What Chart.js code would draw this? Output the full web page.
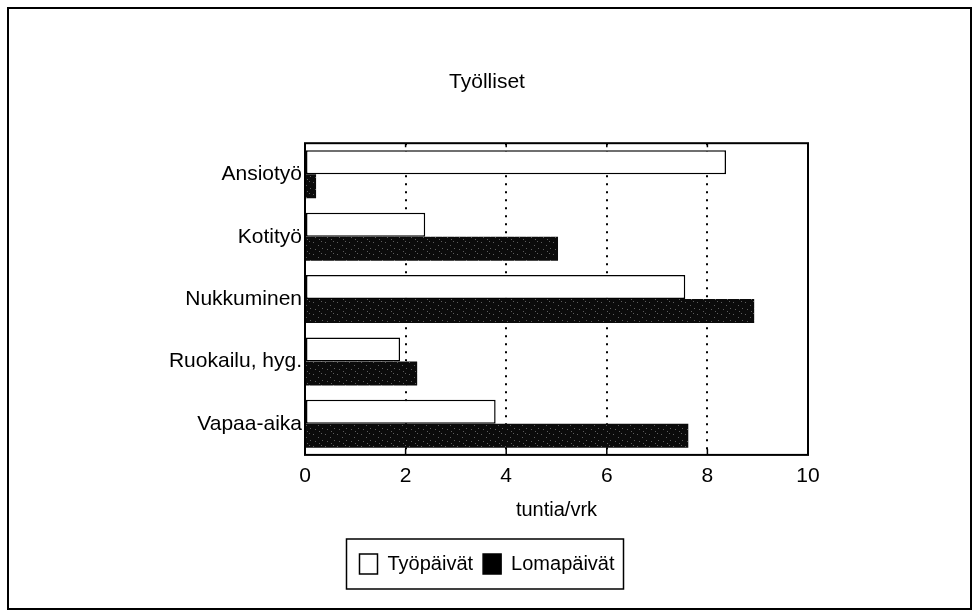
<!DOCTYPE html>
<html>
<head>
<meta charset="utf-8">
<script src="https://cdn.jsdelivr.net/npm/chart.js@4.4.1/dist/chart.umd.min.js"></script>
<style>
  body { margin: 0; background: #fff; }
  canvas { display: block; }
</style>
</head>
<body>
<canvas id="chart" width="979" height="611"></canvas>
<script>
// Data (hours per day)
const categories = ['Ansiotyö', 'Kotityö', 'Nukkuminen', 'Ruokailu, hyg.', 'Vapaa-aika'];
const tyopaivat = [8.37, 2.39, 7.56, 1.89, 3.79];
const lomapaivat = [0.22, 5.03, 8.93, 2.23, 7.62];
const seriesNames = ['Työpäivät', 'Lomapäivät'];
const xMin = 0;
const xMax = 10;
const xStep = 2;

Chart.defaults.font.family = '"Liberation Sans", Arial, sans-serif';
Chart.defaults.color = '#000';

// dark fill with a faint speckle, like the scanned raster
function makeStipple() {
    const c = document.createElement('canvas');
    c.width = 12;
    c.height = 12;
    const g = c.getContext('2d');
    g.fillStyle = '#0b0b0b';
    g.fillRect(0, 0, 12, 12);
    g.fillStyle = '#5e5e5e';
    const dots = [[1, 2], [6, 5], [9, 1], [3, 9], [10, 8], [7, 11]];
    dots.forEach(d => g.fillRect(d[0], d[1], 1, 1));
    return g.createPattern(c, 'repeat');
}

// frame, inner ticks, outer border and box round the legend
const framePlugin = {
    id: 'framePlugin',
    beforeDraw(chart) {
        const ctx = chart.ctx;
        ctx.save();
        ctx.fillStyle = '#fff';
        ctx.fillRect(0, 0, chart.width, chart.height);
        ctx.restore();
    },
    afterDraw(chart) {
        const ctx = chart.ctx;
        const a = chart.chartArea;
        const xs = chart.scales.x;
        ctx.save();
        ctx.strokeStyle = '#000';

        // plot frame
        ctx.lineWidth = 2;
        ctx.strokeRect(a.left, a.top, a.right - a.left, a.bottom - a.top);

        // short inward ticks
        ctx.lineWidth = 1.5;
        for (let v = xMin + xStep; v < xMax; v += xStep) {
            const px = xs.getPixelForValue(v);
            ctx.beginPath();
            ctx.moveTo(px, a.bottom);
            ctx.lineTo(px, a.bottom - 6);
            ctx.moveTo(px, a.top);
            ctx.lineTo(px, a.top + 4);
            ctx.stroke();
        }

        // outer border of the whole figure
        ctx.lineWidth = 2;
        ctx.strokeRect(8, 8, 963, 601);

        // box round the legend items
        const boxes = chart.legend.legendHitBoxes;
        if (boxes && boxes.length) {
            const first = boxes[0];
            const last = boxes[boxes.length - 1];
            const left = first.left - 13;
            const right = last.left + last.width + 9;
            const midY = first.top + first.height / 2;
            ctx.lineWidth = 1.5;
            ctx.strokeRect(left, midY - 25, right - left, 50);
        }
        ctx.restore();
    }
};

const ctx = document.getElementById('chart').getContext('2d');
const chart = new Chart(ctx, {
    type: 'bar',
    data: {
        labels: categories,
        datasets: [{
            label: seriesNames[0],
            data: tyopaivat,
            backgroundColor: '#fff',
            borderColor: '#000',
            borderWidth: 1.5,
            borderSkipped: false
        }, {
            label: seriesNames[1],
            data: lomapaivat,
            backgroundColor: makeStipple(),
            borderColor: '#000',
            borderWidth: 0
        }]
    },
    options: {
        indexAxis: 'y',
        responsive: false,
        animation: false,
        devicePixelRatio: 1,
        layout: {
            padding: { top: 70, left: 166, right: 171, bottom: 27 }
        },
        datasets: {
            bar: { categoryPercentage: 0.77, barPercentage: 1.0 }
        },
        scales: {
            x: {
                min: xMin,
                max: xMax,
                ticks: {
                    stepSize: xStep,
                    padding: 10,
                    font: { size: 21, lineHeight: 1.1 }
                },
                border: { display: false, dash: [2, 6] },
                grid: {
                    drawTicks: false,
                    lineWidth: 2,
                    color: c => (c.tick && (c.tick.value === xMin || c.tick.value === xMax)) ? 'rgba(0,0,0,0)' : '#000'
                },
                title: {
                    display: true,
                    text: 'tuntia/vrk',
                    font: { size: 20 },
                    padding: { top: 0, bottom: 22 }
                }
            },
            y: {
                border: { display: false },
                grid: { display: false, drawTicks: false },
                ticks: {
                    padding: 3,
                    font: { size: 21 }
                },
                afterFit(scale) {
                    scale.width = 139;
                }
            }
        },
        plugins: {
            title: {
                display: true,
                text: 'Työlliset',
                font: { size: 21, weight: 'normal' },
                padding: { top: 0, bottom: 48 }
            },
            legend: {
                position: 'bottom',
                labels: {
                    boxWidth: 18,
                    boxHeight: 20,
                    padding: 10,
                    font: { size: 20 },
                    generateLabels(chart) {
                        const items = Chart.defaults.plugins.legend.labels.generateLabels(chart);
                        items.forEach((it, i) => {
                            it.fillStyle = i === 0 ? '#fff' : '#000';
                            it.strokeStyle = '#000';
                            it.lineWidth = 1.5;
                        });
                        return items;
                    }
                }
            },
            tooltip: { enabled: false }
        }
    },
    plugins: [framePlugin]
});
</script>
</body>
</html>
